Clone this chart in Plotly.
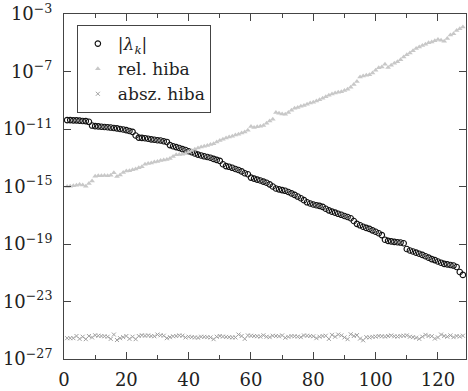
import plotly.graph_objects as go

# index k of the eigenvalue
k = list(range(1, 129))

# log10 |lambda_k|
lam_log10 = [
    -10.38, -10.38, -10.40, -10.40, -10.42, -10.44, -10.45, -10.50, -10.76, -10.80,
    -10.82, -10.84, -10.86, -10.88, -10.90, -10.93, -10.96, -11.00, -11.03, -11.08,
    -11.14, -11.20, -11.45, -11.60, -11.62, -11.64, -11.68, -11.72, -11.75, -11.78,
    -11.80, -11.85, -11.90, -12.12, -12.20, -12.26, -12.32, -12.40, -12.46, -12.55,
    -12.62, -12.70, -12.78, -12.84, -12.90, -12.95, -13.00, -13.08, -13.15, -13.22,
    -13.45, -13.58, -13.63, -13.70, -13.78, -13.85, -13.95, -14.08, -14.15, -14.38,
    -14.45, -14.52, -14.58, -14.66, -14.74, -14.85, -15.00, -15.14, -15.20, -15.25,
    -15.30, -15.38, -15.48, -15.58, -15.70, -15.82, -15.95, -16.10, -16.18, -16.25,
    -16.30, -16.35, -16.42, -16.55, -16.66, -16.75, -16.82, -16.90, -16.97, -17.05,
    -17.12, -17.21, -17.40, -17.60, -17.70, -17.80, -17.88, -17.95, -18.05, -18.15,
    -18.25, -18.38, -18.70, -18.78, -18.82, -18.85, -18.88, -18.90, -18.95, -19.35,
    -19.45, -19.52, -19.60, -19.68, -19.76, -19.85, -19.95, -20.05, -20.12, -20.22,
    -20.30, -20.38, -20.42, -20.46, -20.50, -20.60, -20.95, -21.15,
]

# log10 of the relative error
rel_log10 = [
    -15.00, -14.98, -14.95, -14.92, -14.86, -14.90, -14.98, -14.80, -14.62, -14.28,
    -14.26, -14.25, -14.24, -14.26, -14.22, -14.05, -14.30, -14.20, -14.02, -13.92,
    -13.90, -13.84, -13.78, -13.70, -13.62, -13.45, -13.40, -13.36, -13.30, -13.26,
    -13.20, -13.16, -13.12, -13.06, -12.92, -12.80, -12.78, -12.76, -12.70, -12.60,
    -12.50, -12.40, -12.32, -12.25, -12.20, -12.14, -12.08, -12.02, -11.90, -11.80,
    -11.72, -11.62, -11.56, -11.50, -11.42, -11.36, -11.28, -11.20, -11.08, -10.82,
    -10.90, -10.85, -10.80, -10.76, -10.60, -10.45, -10.32, -9.85, -9.90, -9.95,
    -9.98, -9.85, -9.70, -9.56, -9.50, -9.42, -9.36, -9.28, -9.20, -9.14,
    -9.06, -8.96, -8.86, -8.76, -8.65, -8.56, -8.50, -8.45, -8.40, -8.32,
    -8.24, -8.10, -7.90, -7.70, -7.38, -7.32, -7.26, -7.22, -7.10, -6.92,
    -6.74, -6.68, -6.50, -6.72, -6.56, -6.42, -6.32, -6.18, -6.00, -5.84,
    -5.72, -5.55, -5.40, -5.30, -5.20, -5.10, -5.00, -4.94, -4.86, -4.78,
    -4.82, -4.90, -4.70, -4.46, -4.38, -4.14, -4.02, -3.90,
]

# log10 of the absolute error
abs_log10 = [
    -25.55, -25.55, -25.55, -25.40, -25.60, -25.45, -25.62, -25.40, -25.50, -25.35,
    -25.38, -25.40, -25.42, -25.45, -25.60, -25.30, -25.68, -25.55, -25.48, -25.40,
    -25.60, -25.45, -25.62, -25.40, -25.35, -25.38, -25.36, -25.40, -25.42, -25.30,
    -25.35, -25.38, -25.55, -25.48, -25.42, -25.40, -25.36, -25.38, -25.50, -25.45,
    -25.48, -25.50, -25.52, -25.45, -25.46, -25.48, -25.50, -25.62, -25.45, -25.40,
    -25.44, -25.46, -25.48, -25.50, -25.50, -25.30, -25.40, -25.60, -25.36, -25.38,
    -25.40, -25.42, -25.44, -25.35, -25.45, -25.48, -25.38, -25.40, -25.42, -25.36,
    -25.52, -25.46, -25.40, -25.42, -25.44, -25.48, -25.36, -25.38, -25.40, -25.42,
    -25.55, -25.45, -25.40, -25.38, -25.60, -25.32, -25.45, -25.30, -25.36, -25.50,
    -25.62, -25.28, -25.40, -25.34, -25.58, -25.70, -25.48, -25.50, -25.46, -25.44,
    -25.40, -25.42, -25.44, -25.40, -25.36, -25.42, -25.44, -25.40, -25.38, -25.36,
    -25.45, -25.48, -25.52, -25.60, -25.45, -25.32, -25.40, -25.42, -25.58, -25.50,
    -25.30, -25.40, -25.45, -25.36, -25.48, -25.40, -25.44, -25.38,
]

lam = [10 ** v for v in lam_log10]
rel_err = [10 ** v for v in rel_log10]
abs_err = [10 ** v for v in abs_log10]

y_exps = [-3, -7, -11, -15, -19, -23, -27]
y_ticks = [10.0 ** e for e in y_exps]
y_text = ["10<sup>\u2212%d</sup>" % (-e) for e in y_exps]

FONT = "DejaVu Serif"
AX = "#444444"
TXT = "#222222"

fig = go.Figure()
fig.add_trace(go.Scatter(
    x=k, y=lam, mode="markers", name="|<i>\u03bb<sub>k</sub></i>|",
    marker=dict(symbol="circle-open", size=5.5, color="#111111",
                line=dict(width=1.1, color="#111111")),
))
fig.add_trace(go.Scatter(
    x=k, y=rel_err, mode="markers", name="rel. hiba",
    marker=dict(symbol="triangle-up", size=5, color="#c8c8c8"),
))
fig.add_trace(go.Scatter(
    x=k, y=abs_err, mode="markers", name="absz. hiba",
    marker=dict(symbol="x-thin-open", size=4, color="#a0a0a0",
                line=dict(width=1, color="#a0a0a0")),
))

fig.update_layout(
    width=468, height=391,
    margin=dict(l=64, r=1, t=14, b=28),
    paper_bgcolor="white", plot_bgcolor="white",
    font=dict(family=FONT, size=18, color=TXT),
    showlegend=True,
    legend=dict(
        x=0.032, y=0.968, xanchor="left", yanchor="top",
        bgcolor="white", bordercolor=AX, borderwidth=1,
        font=dict(family=FONT, size=17, color=TXT),
        itemwidth=30, tracegroupgap=0,
    ),
)

fig.update_xaxes(
    range=[0, 129], tick0=0, dtick=20,
    showline=True, linecolor=AX, linewidth=1, mirror="ticks",
    ticks="inside", ticklen=7, tickcolor=AX, tickwidth=1,
    minor=dict(dtick=10, ticks="inside", ticklen=4, tickcolor=AX, tickwidth=1),
    showgrid=False, zeroline=False, ticklabelstandoff=4,
    tickfont=dict(family=FONT, size=18, color=TXT),
)
fig.update_yaxes(
    type="log", range=[-27, -3],
    tickvals=y_ticks, ticktext=y_text,
    showline=True, linecolor=AX, linewidth=1, mirror="ticks",
    ticks="inside", ticklen=7, tickcolor=AX, tickwidth=1,
    showgrid=False, zeroline=False, ticklabelstandoff=7,
    tickfont=dict(family=FONT, size=18, color=TXT),
)

fig.write_html("out.html")
